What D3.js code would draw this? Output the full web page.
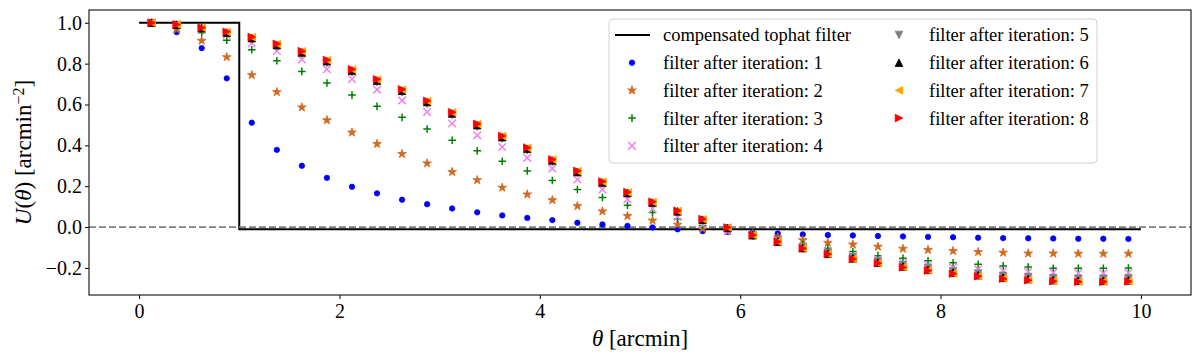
<!DOCTYPE html>
<html>
<head>
<meta charset="utf-8">
<script src="https://cdn.jsdelivr.net/npm/d3@7"></script>
<style>
  body { margin: 0; background: #fff; }
  text { font-family: "Liberation Serif", "DejaVu Serif", serif; }
</style>
</head>
<body>
<div id="chart"></div>
<script>
// angular positions (arcmin)
const theta = [0.125, 0.375, 0.625, 0.875, 1.125, 1.375, 1.625, 1.875, 2.125, 2.375,
  2.625, 2.875, 3.125, 3.375, 3.625, 3.875, 4.125, 4.375, 4.625, 4.875,
  5.125, 5.375, 5.625, 5.875, 6.125, 6.375, 6.625, 6.875, 7.125, 7.375,
  7.625, 7.875, 8.125, 8.375, 8.625, 8.875, 9.125, 9.375, 9.625, 9.875];

// the compensated tophat filter (step points)
const tophatX = [0, 1, 1, 10];
const tophatY = [1, 1, -0.0101, -0.0101];

const iter1 = [0.995, 0.954, 0.876, 0.728, 0.511, 0.378, 0.300, 0.241, 0.197, 0.165,
  0.134, 0.112, 0.091, 0.072, 0.057, 0.045, 0.034, 0.021, 0.013, 0.006,
  -0.002, -0.011, -0.020, -0.023, -0.027, -0.031, -0.036, -0.039, -0.041, -0.044,
  -0.046, -0.048, -0.050, -0.052, -0.054, -0.055, -0.056, -0.057, -0.057, -0.058];
const iter2 = [0.998, 0.968, 0.912, 0.832, 0.744, 0.661, 0.586, 0.523, 0.463, 0.407,
  0.358, 0.312, 0.270, 0.230, 0.193, 0.160, 0.132, 0.103, 0.077, 0.054,
  0.032, 0.012, -0.008, -0.020, -0.034, -0.050, -0.064, -0.077, -0.085, -0.096,
  -0.106, -0.112, -0.117, -0.122, -0.125, -0.129, -0.129, -0.130, -0.130, -0.130];
const iter3 = [0.999, 0.985, 0.951, 0.915, 0.868, 0.814, 0.762, 0.705, 0.646, 0.591,
  0.537, 0.480, 0.425, 0.373, 0.322, 0.275, 0.228, 0.184, 0.145, 0.107,
  0.071, 0.039, 0.008, -0.016, -0.042, -0.065, -0.085, -0.104, -0.120, -0.140,
  -0.153, -0.165, -0.175, -0.182, -0.190, -0.196, -0.202, -0.202, -0.202, -0.200];
const iter4 = [1.000, 0.988, 0.968, 0.940, 0.900, 0.862, 0.820, 0.773, 0.725, 0.673,
  0.620, 0.563, 0.507, 0.449, 0.392, 0.339, 0.287, 0.233, 0.184, 0.137,
  0.089, 0.050, 0.012, -0.020, -0.040, -0.068, -0.095, -0.120, -0.140, -0.158,
  -0.175, -0.188, -0.198, -0.207, -0.214, -0.219, -0.223, -0.225, -0.226, -0.224];
const iter5 = [0.999, 0.989, 0.970, 0.947, 0.919, 0.884, 0.847, 0.804, 0.758, 0.709,
  0.659, 0.604, 0.548, 0.491, 0.433, 0.376, 0.319, 0.264, 0.212, 0.161,
  0.115, 0.072, 0.032, -0.007, -0.042, -0.072, -0.101, -0.127, -0.149, -0.169,
  -0.187, -0.202, -0.216, -0.228, -0.239, -0.245, -0.250, -0.253, -0.253, -0.251];
const iter6 = [1.000, 0.991, 0.974, 0.952, 0.925, 0.891, 0.855, 0.812, 0.766, 0.717,
  0.667, 0.612, 0.556, 0.499, 0.440, 0.383, 0.326, 0.270, 0.218, 0.167,
  0.120, 0.077, 0.036, -0.004, -0.040, -0.072, -0.103, -0.130, -0.153, -0.174,
  -0.193, -0.209, -0.223, -0.236, -0.248, -0.255, -0.260, -0.263, -0.263, -0.261];
const iter7 = [1.000, 0.992, 0.976, 0.955, 0.929, 0.896, 0.860, 0.817, 0.771, 0.722,
  0.672, 0.617, 0.561, 0.504, 0.445, 0.388, 0.330, 0.274, 0.222, 0.170,
  0.123, 0.079, 0.038, -0.002, -0.039, -0.072, -0.104, -0.132, -0.156, -0.177,
  -0.196, -0.212, -0.227, -0.240, -0.252, -0.259, -0.264, -0.267, -0.267, -0.265];
const iter8 = [1.000, 0.992, 0.976, 0.956, 0.930, 0.897, 0.861, 0.818, 0.772, 0.723,
  0.674, 0.618, 0.562, 0.505, 0.446, 0.389, 0.331, 0.275, 0.223, 0.171,
  0.124, 0.080, 0.039, -0.002, -0.039, -0.072, -0.104, -0.132, -0.156, -0.177,
  -0.197, -0.213, -0.228, -0.241, -0.253, -0.260, -0.265, -0.268, -0.268, -0.266];

const xTicks = [0, 2, 4, 6, 8, 10];
const yTicks = [-0.2, 0.0, 0.2, 0.4, 0.6, 0.8, 1.0];

const seriesNames = ["filter after iteration: 1", "filter after iteration: 2",
  "filter after iteration: 3", "filter after iteration: 4", "filter after iteration: 5",
  "filter after iteration: 6", "filter after iteration: 7", "filter after iteration: 8"];

// marker shapes, matplotlib style
const s = 3.8;
const starPath = (function() {
  let pts = [];
  for (let i = 0; i < 10; i++) {
    let r = i % 2 === 0 ? s + 0.8 : (s + 0.8) * 0.382;
    let a = -Math.PI / 2 + i * Math.PI / 5;
    pts.push([r * Math.cos(a), r * Math.sin(a)]);
  }
  return "M" + pts.map(p => p[0].toFixed(2) + "," + p[1].toFixed(2)).join("L") + "Z";
})();
const markers = [
  {color: "#0000ff", d: d3.symbol(d3.symbolCircle, Math.PI * 2.7 * 2.7)(), fill: true},
  {color: "#d2691e", d: starPath, fill: true},
  {color: "#008000", d: `M${-s},0H${s}M0,${-s}V${s}`, fill: false},
  {color: "#ee82ee", d: `M${-s},${-s}L${s},${s}M${-s},${s}L${s},${-s}`, fill: false},
  {color: "#808080", d: `M0,${s}L${-s},${-s}L${s},${-s}Z`, fill: true},
  {color: "#000000", d: `M0,${-s}L${-s},${s}L${s},${s}Z`, fill: true},
  {color: "#ffa500", d: `M${-s},0L${s},${-s}L${s},${s}Z`, fill: true},
  {color: "#ff0000", d: `M${s},0L${-s},${-s}L${-s},${s}Z`, fill: true}
];
const allSeries = [iter1, iter2, iter3, iter4, iter5, iter6, iter7, iter8];

const serif = '"Liberation Serif", "DejaVu Serif", serif';

const margin = {top: 10, right: 9, bottom: 59, left: 89},
  width = 1200 - margin.left - margin.right,
  height = 354 - margin.top - margin.bottom;

const svg = d3.select("#chart")
  .append("svg")
    .attr("width", 1200)
    .attr("height", 354)
    .attr("font-family", serif)
  .append("g")
    .attr("transform", "translate(" + margin.left + "," + margin.top + ")");

const x = d3.scaleLinear().domain([-0.5, 10.5]).range([0, width]);
const y = d3.scaleLinear().domain([-0.3325, 1.0625]).range([height, 0]);

// x axis
const xAxis = svg.append("g")
  .attr("transform", "translate(0," + height + ")")
  .call(d3.axisBottom(x).tickValues(xTicks).tickFormat(d3.format("d")).tickSize(4).tickPadding(5).tickSizeOuter(0));
xAxis.attr("font-family", serif);
xAxis.select(".domain").remove();
xAxis.selectAll("text").style("font-size", "20px").attr("fill", "#000");

// y axis
const yAxis = svg.append("g")
  .call(d3.axisLeft(y).tickValues(yTicks).tickFormat(d3.format(".1f")).tickSize(4).tickPadding(3).tickSizeOuter(0));
yAxis.attr("font-family", serif);
yAxis.select(".domain").remove();
yAxis.selectAll("text").style("font-size", "20px").attr("fill", "#000");

// tophat filter
svg.append("path")
  .datum(tophatX.map((d, i) => [d, tophatY[i]]))
  .attr("d", d3.line().x(d => x(d[0])).y(d => y(d[1])))
  .attr("fill", "none")
  .attr("stroke", "#000")
  .attr("stroke-width", 2);

// zero line
svg.append("line")
  .attr("x1", 0).attr("x2", width)
  .attr("y1", y(0)).attr("y2", y(0))
  .attr("stroke", "#808080")
  .attr("stroke-width", 1.8)
  .attr("stroke-dasharray", "7,3");

// markers
allSeries.forEach(function(vals, k) {
  const m = markers[k];
  svg.selectAll(".m" + k)
    .data(vals)
    .enter()
    .append("path")
      .attr("class", "m" + k)
      .attr("transform", (d, i) => "translate(" + x(theta[i]) + "," + y(d) + ")")
      .attr("d", m.d)
      .attr("fill", m.fill ? m.color : "none")
      .attr("stroke", m.color)
      .attr("stroke-width", m.fill ? 0.8 : 1.5);
});

// frame
svg.append("rect")
  .attr("width", width).attr("height", height)
  .attr("fill", "none")
  .attr("stroke", "#222")
  .attr("stroke-width", 1.2);

// legend
const lg = svg.append("g").attr("transform", "translate(" + (609 - margin.left) + "," + (19 - margin.top) + ")");
lg.append("rect")
  .attr("width", 488).attr("height", 144)
  .attr("rx", 4)
  .attr("fill", "#fff").attr("fill-opacity", 0.8)
  .attr("stroke", "#d0d0d0");

const rowY = i => 16 + i * 27.7;
lg.append("line")
  .attr("x1", 6).attr("x2", 41)
  .attr("y1", rowY(0)).attr("y2", rowY(0))
  .attr("stroke", "#000").attr("stroke-width", 2);
lg.append("text")
  .attr("x", 54).attr("y", rowY(0))
  .attr("dy", "0.35em")
  .style("font-size", "18.5px")
  .text("compensated tophat filter");

seriesNames.forEach(function(name, k) {
  const col = k < 4 ? 0 : 1;
  const row = k < 4 ? k + 1 : k - 4;
  const mx = col === 0 ? 23 : 290;
  const m = markers[k];
  lg.append("path")
    .attr("transform", "translate(" + mx + "," + rowY(row) + ")")
    .attr("d", m.d)
    .attr("fill", m.fill ? m.color : "none")
    .attr("stroke", m.color)
    .attr("stroke-width", m.fill ? 0.8 : 1.5);
  lg.append("text")
    .attr("x", col === 0 ? 54 : 320).attr("y", rowY(row))
    .attr("dy", "0.35em")
    .style("font-size", "18.5px")
    .text(name);
});

// axis labels
svg.append("text")
  .attr("x", width / 2).attr("y", height + 51)
  .attr("text-anchor", "middle")
  .style("font-size", "23px")
  .call(t => {
    t.append("tspan").style("font-style", "italic").text("θ");
    t.append("tspan").text(" [arcmin]");
  });

svg.append("text")
  .attr("transform", "translate(" + (-58) + "," + (height / 2) + ") rotate(-90)")
  .attr("text-anchor", "middle")
  .style("font-size", "23px")
  .call(t => {
    t.append("tspan").style("font-style", "italic").text("U");
    t.append("tspan").text("(");
    t.append("tspan").style("font-style", "italic").text("θ");
    t.append("tspan").text(") [arcmin");
    t.append("tspan").attr("dy", "-0.45em").style("font-size", "16px").text("−2");
    t.append("tspan").attr("dy", "0.3em").text("]");
  });
</script>
</body>
</html>
